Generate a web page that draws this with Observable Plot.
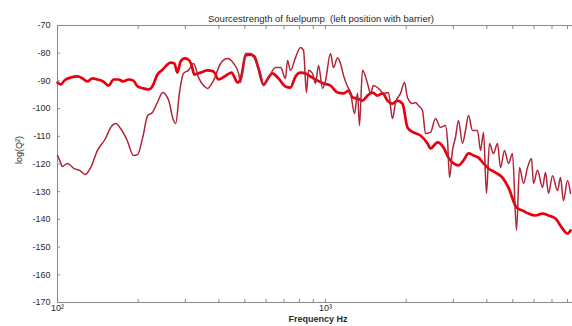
<!DOCTYPE html>
<html>
<head>
<meta charset="utf-8">
<script src="https://cdn.jsdelivr.net/npm/d3@7"></script>
<script src="https://cdn.jsdelivr.net/npm/@observablehq/plot@0.6"></script>
<style>
  html, body { margin: 0; padding: 0; background: #fff; }
  #chart svg { display: block; }
</style>
</head>
<body>
<div id="chart"></div>
<script>
const titleText = "Sourcestrength of fuelpump  (left position with barrier)";
const xLabel = "Frequency Hz";
const yLabel = "log(Q²)";

// Thick bright-red series
const freqA = [100,103,106,112,119,124,129,135,141,148,155,162,169,176,184,192,199,209,219,226,236,247,255,264,273,280,288,298,308,316,324,342,363,382,399,420,446,470,486,503,525,543,562,587,613,634,668,709,740,773,807,842,879,934,983,
  1044,1109,1168,1219,1261,1317,1374,1435,1498,1563,1633,1703,1778,1857,1938,2023,2130,2262,2403,2465,2618,2756,2877,2977,3135,3273,3417,3567,3723,3887,4057,4308,4575,4818,5161,5434,5721,6076,6451,6795,7216,7661,7998,8207];
const valA  = [-90.6,-91.3,-89.9,-88.8,-88.4,-89.1,-90.2,-89.1,-89.5,-90.2,-91.7,-89.5,-89.5,-90.2,-89.5,-89.9,-92.0,-92.7,-93.1,-92.0,-87.7,-85.9,-84.4,-83.4,-83.7,-87.0,-83.0,-81.9,-82.3,-84.1,-87.7,-87.0,-86.2,-86.6,-89.5,-88.4,-87.0,-90.6,-88.1,-80.8,-80.5,-81.2,-85.5,-91.3,-88.8,-87.3,-89.1,-92.0,-92.4,-88.4,-87.0,-87.3,-88.4,-89.9,-90.9,
  -91.7,-94.2,-94.5,-93.5,-96.0,-96.4,-97.1,-95.3,-94.2,-95.3,-94.5,-97.1,-98.2,-97.1,-98.2,-106.8,-108.6,-109.7,-112.6,-114.4,-112.2,-114.0,-117.7,-119.5,-120.5,-118.7,-116.2,-116.9,-117.7,-119.8,-121.6,-123.1,-124.9,-128.5,-135.7,-136.8,-137.9,-138.6,-137.9,-138.6,-139.7,-143.3,-145.1,-144.0];

// Thin dark-red series
const freqB = [100,103,104,109,115,121,127,133,141,151,158,165,172,182,192,199,208,217,226,236,247,260,271,276,285,295,308,322,336,351,363,382,406,431,454,474,482,503,525,548,572,587,613,651,680,709,722,740,773,807,828,849,864,894,918,942,975,1000,
  1044,1071,1109,1138,1168,1208,1240,1283,1317,1339,1374,1435,1472,1510,1577,1646,1718,1778,1826,1905,1971,2023,2110,2166,2222,2301,2361,2465,2573,2686,2803,2853,2903,2977,3055,3135,3245,3330,3417,3536,3692,3788,3887,3987,4092,4235,4383,4498,4655,4818,4986,5161,5296,5481,5672,5871,5972,6181,6451,6622,6795,7031,7340,7532,7727,7998,8207];
const valB  = [-116.9,-119.8,-120.9,-119.8,-121.6,-122.3,-123.8,-121.3,-115.1,-110.8,-106.8,-105.4,-107.2,-111.5,-116.9,-116.6,-110.4,-102.5,-101.4,-97.8,-94.2,-97.1,-104.3,-105.4,-94.5,-87.3,-86.2,-83.7,-88.8,-91.7,-92.7,-89.9,-83.7,-81.9,-83.7,-87.3,-90.6,-80.1,-80.1,-82.6,-87.3,-91.7,-88.8,-85.2,-85.2,-89.1,-82.6,-86.2,-81.6,-77.9,-79.0,-94.2,-86.2,-87.3,-90.9,-84.4,-92.7,-89.9,
  -80.1,-85.2,-81.6,-83.7,-88.1,-92.0,-94.2,-101.8,-94.5,-106.1,-86.2,-90.9,-94.5,-91.7,-92.7,-94.5,-94.2,-103.6,-97.8,-94.5,-90.6,-96.0,-98.2,-97.8,-98.9,-100.7,-109.0,-108.6,-103.6,-106.8,-106.1,-111.5,-124.9,-115.1,-110.4,-104.3,-112.6,-107.9,-102.5,-107.9,-107.9,-115.1,-108.6,-130.6,-112.6,-116.2,-112.6,-121.3,-115.1,-119.8,-116.2,-144.0,-121.3,-127.0,-121.3,-118.0,-127.0,-122.3,-128.5,-123.1,-130.6,-124.2,-129.6,-124.9,-133.2,-126.0,-130.6];

const yTicks = [-70,-80,-90,-100,-110,-120,-130,-140,-150,-160,-170];
const xMajor = [100, 1000];
const xMajorLabels = ["10²", "10³"];
const xMinor = [200,300,400,500,600,700,800,900,2000,3000,4000,5000,6000,7000,8000];

const seriesA = freqA.map((f, i) => ({f, v: valA[i]}));
const seriesB = freqB.map((f, i) => ({f, v: valB[i]}));

const font = "'Liberation Sans', Arial, Helvetica, sans-serif";
const axisColor = "#8a8a8a";
const textColor = "#2a2a2a";
const allXTicks = xMajor.concat(xMinor);

const chart = Plot.plot({
  width: 572,
  height: 326,
  marginLeft: 57,
  marginRight: 0,
  marginTop: 25,
  marginBottom: 24,
  style: {fontFamily: font, background: "#fff"},
  x: {type: "log", domain: [100, 8350], axis: null},
  y: {domain: [-170, -70], axis: null},
  marks: [
    Plot.ruleX([100], {stroke: axisColor, strokeWidth: 1}),
    Plot.ruleY([-170, -70], {stroke: axisColor, strokeWidth: 1}),
    Plot.axisX({anchor: "bottom", ticks: allXTicks, tickSize: 3, dy: -3, tickFormat: () => "", label: null, stroke: axisColor}),
    Plot.axisX({anchor: "top", ticks: allXTicks, tickSize: 3, dy: 3, tickFormat: () => "", label: null, stroke: axisColor}),
    Plot.axisY({anchor: "left", ticks: yTicks, tickSize: 3, dx: 3, tickFormat: () => "", label: null, stroke: axisColor}),
    Plot.axisY({anchor: "left", ticks: yTicks, tickSize: 0, tickPadding: 7, tickFormat: d => String(d), label: null, fontSize: 9, fill: textColor}),
    Plot.axisX({anchor: "bottom", ticks: xMajor, tickSize: 0, tickPadding: 2, tickFormat: d => xMajorLabels[xMajor.indexOf(d)], label: null, fontSize: 9, fill: textColor}),
    Plot.line(seriesA, {x: "f", y: "v", stroke: "#e8000e", strokeWidth: 2.7, curve: "monotone-x", strokeLinejoin: "round"}),
    Plot.line(seriesB, {x: "f", y: "v", stroke: "#b02538", strokeWidth: 1.5, curve: "monotone-x", strokeLinejoin: "round"}),
    Plot.text([titleText], {frameAnchor: "top", dy: -10, dx: 6, fontSize: 9.5, fill: textColor, text: d => d}),
    Plot.text([xLabel], {frameAnchor: "bottom", dy: 19.5, dx: 3, fontSize: 9, fontWeight: "bold", fill: textColor, text: d => d}),
    Plot.text([yLabel], {frameAnchor: "left", dx: -38, rotate: -90, fontSize: 9, fill: textColor, text: d => d})
  ]
});
document.getElementById("chart").appendChild(chart);
</script>
</body>
</html>
